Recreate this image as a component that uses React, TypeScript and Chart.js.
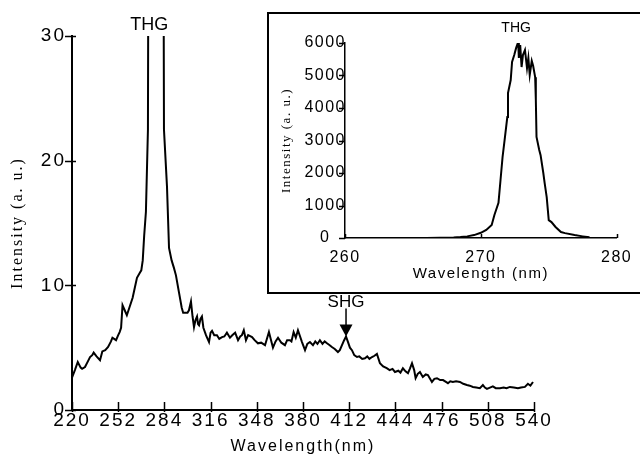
import React, { useEffect, useRef } from "react";
import { Chart, registerables } from "chart.js";

Chart.register(...registerables);

// ---- Main spectrum (Wavelength nm, Intensity a.u.) ----
const mainWavelengths = [
  220, 222, 224, 226, 227, 229, 231, 232.5, 234, 235, 237, 239.4, 241, 243, 245, 247, 248, 250.5, 252, 253,
  254, 255, 256.5, 258, 260, 262, 263.5, 265, 267, 268, 269, 270, 271.2, 272.6, 278, 283.7, 285.8, 287.2, 289, 290.6,
  292, 294, 296, 297, 300, 301, 302.4, 303.5, 304.5, 305.5, 306.6, 307.3, 308, 309, 310, 311, 312.8, 314.9, 316, 317,
  318.5, 320.4, 322, 323.9, 325.5, 327.3, 329.4, 331, 333, 335, 336.5, 337.7, 339, 340.5, 342, 344.7, 346.5, 348.8, 351, 353.7,
  356.4, 359.2, 361, 362.7, 365, 367.5, 369, 371, 372, 373.5, 375, 376.5, 379.3, 381.4, 383, 384.8, 386.9, 388.5,
  390, 391.7, 393.5, 395, 396.6, 398.5, 400, 402, 404.2, 405.5, 407, 408.5, 409.8, 411, 412.5, 413.9, 415.5, 417.4,
  419, 421, 422.9, 424.5, 426, 427.8, 429.5, 431.2, 433.3, 435.5, 438, 440, 442, 443.7, 446, 447.5, 449.2, 451,
  452.7, 454, 455.5, 457, 458, 459.5, 461, 463, 465, 466.5, 468, 469.3, 471, 472.8, 475, 477, 479, 480.4, 482, 483.8,
  486, 488.7, 491, 493.5, 495.5, 497.7, 500, 502.5, 504.6, 506, 507.4, 509.5, 511.5, 513.5, 516.4, 519, 521, 523.3,
  526, 528.9, 531, 533.7, 535.8, 537.5, 539.3,
];
const mainIntensity = [
  2.6, 3.2, 3.85, 3.4, 3.3, 3.45, 3.9, 4.25, 4.4, 4.6, 4.3, 4.0, 4.7, 4.8, 5.05, 5.5, 5.8, 5.6, 6.0, 6.25,
  6.6, 8.4, 8.0, 7.6, 8.3, 9.0, 9.8, 10.6, 11.0, 11.2, 12.0, 14.0, 15.9, 22.5, 300, 22.5, 17.9, 13.0, 12.0, 11.4,
  10.8, 9.5, 8.2, 7.8, 7.8, 8.0, 8.7, 7.5, 6.65, 7.2, 7.5, 6.9, 6.8, 7.3, 7.5, 6.6, 6.0, 5.45, 6.2, 6.35,
  6.0, 6.0, 5.7, 5.85, 5.9, 6.2, 5.8, 6.0, 6.2, 5.6, 5.9, 6.0, 6.4, 5.6, 6.0, 5.85, 5.6, 5.35, 5.4, 5.2,
  6.25, 5.0, 5.5, 5.8, 5.4, 5.2, 5.6, 5.6, 5.5, 6.25, 5.8, 6.4, 5.45, 4.8, 5.3, 5.45, 5.2, 5.5,
  5.3, 5.6, 5.3, 5.5, 5.35, 5.2, 5.05, 4.9, 4.65, 4.8, 5.2, 5.6, 5.9, 5.5, 5.0, 4.8, 4.4, 4.25,
  4.3, 4.1, 4.15, 4.3, 4.1, 4.25, 4.35, 4.5, 3.75, 3.5, 3.35, 3.2, 3.3, 3.05, 3.15, 3.0, 3.35, 3.1,
  2.95, 3.3, 3.75, 3.2, 2.55, 2.9, 3.05, 2.65, 2.85, 2.8, 2.5, 2.25, 2.5, 2.55, 2.4, 2.4, 2.25, 2.15, 2.3, 2.25,
  2.3, 2.25, 2.1, 2.0, 1.95, 1.85, 1.8, 1.75, 2.0, 1.8, 1.7, 1.8, 1.9, 1.75, 1.75, 1.8, 1.75, 1.85,
  1.8, 1.75, 1.8, 1.85, 2.1, 1.95, 2.25,
];
const mainXTicks = [220, 252, 284, 316, 348, 380, 412, 444, 476, 508, 540];
const mainYTicks = [0, 10, 20, 30];

// ---- Inset: THG peak ----
const insetWavelengths = [
  260, 262, 264, 266, 267, 268, 268.5, 269, 269.5, 270, 270.4, 270.8, 271, 271.3, 271.45, 271.6, 271.75, 271.95,
  272.0, 272.2, 272.3, 272.46, 272.6, 272.75, 272.8, 272.9, 273.0, 273.1, 273.25, 273.4, 273.5, 273.6, 273.75,
  273.85, 274.0, 274.05, 274.1, 274.3, 274.4, 274.6, 274.7, 274.85, 275.0, 275.2, 275.5, 275.9, 276.2, 276.9,
  277.5, 278,
];
const insetIntensity = [
  0, 0, 0, 0, 5, 15, 30, 50, 90, 160, 250, 400, 710, 1080, 1785, 2490, 3015, 3720,
  4460, 4860, 5415, 5630, 5850, 6030, 5540, 5940, 5260, 5630, 5785, 5230, 5540, 5015, 5450,
  5300, 4950, 4245, 3110, 2710, 2550, 2000, 1690, 1260, 550, 490, 340, 185, 150, 90,
  50, 20,
];
const insetXTicks = [260, 270, 280];
const insetYTicks = [0, 1000, 2000, 3000, 4000, 5000, 6000];

// annotation anchors
const thgLabelWavelength = 273.5;
const shgWavelength = 409.8;
const shgIntensity = 5.9;
const insetThgWavelength = 272.6;

function tickPlugin(id: string, spacing: string, xIn: number, xOut: number, yIn: number, yOut: number) {
  return {
    id,
    beforeDraw(chart: any) {
      chart.ctx.letterSpacing = spacing;
    },
    afterDraw(chart: any) {
      const ctx = chart.ctx;
      const xs = chart.scales.x;
      const ys = chart.scales.y;
      const a = chart.chartArea;
      ctx.save();
      ctx.strokeStyle = "#000";
      ctx.lineWidth = 1.5;
      ctx.beginPath();
      xs.ticks.forEach((t: any) => {
        const px = Math.round(xs.getPixelForValue(t.value)) + 0.5;
        ctx.moveTo(px, a.bottom - xIn);
        ctx.lineTo(px, a.bottom + xOut);
      });
      ys.ticks.forEach((t: any) => {
        const py = Math.round(ys.getPixelForValue(t.value)) + 0.5;
        ctx.moveTo(a.left - yOut, py);
        ctx.lineTo(a.left + yIn, py);
      });
      ctx.stroke();
      ctx.restore();
    },
  };
}

const mainAnnotations = {
  id: "mainAnnotations",
  afterDraw(chart: any) {
    const ctx = chart.ctx;
    const xs = chart.scales.x;
    const ys = chart.scales.y;
    const a = chart.chartArea;
    ctx.save();
    ctx.letterSpacing = "0px";
    ctx.fillStyle = "#000";
    ctx.strokeStyle = "#000";
    ctx.textAlign = "center";
    ctx.textBaseline = "middle";
    ctx.font = "18px 'Liberation Sans'";
    ctx.fillText("THG", xs.getPixelForValue(thgLabelWavelength), a.top - 11);
    const tx = xs.getPixelForValue(shgWavelength);
    const ty = ys.getPixelForValue(shgIntensity);
    ctx.lineWidth = 1.5;
    ctx.beginPath();
    ctx.moveTo(tx, ty - 28);
    ctx.lineTo(tx, ty - 10);
    ctx.stroke();
    ctx.beginPath();
    ctx.moveTo(tx - 6.5, ty - 12);
    ctx.lineTo(tx + 6.5, ty - 12);
    ctx.lineTo(tx, ty);
    ctx.closePath();
    ctx.fill();
    ctx.font = "17px 'Liberation Sans'";
    ctx.fillText("SHG", tx, ty - 34);
    ctx.restore();
  },
};

const insetAnnotations = {
  id: "insetAnnotations",
  afterDraw(chart: any) {
    const ctx = chart.ctx;
    const xs = chart.scales.x;
    const a = chart.chartArea;
    ctx.save();
    ctx.letterSpacing = "0px";
    ctx.fillStyle = "#000";
    ctx.textAlign = "center";
    ctx.textBaseline = "middle";
    ctx.font = "14px 'Liberation Sans'";
    ctx.fillText("THG", xs.getPixelForValue(insetThgWavelength), a.top - 15);
    ctx.restore();
  },
};

export default function App() {
  const mainRef = useRef<HTMLCanvasElement>(null);
  const insetRef = useRef<HTMLCanvasElement>(null);

  useEffect(() => {
    const main = new Chart(mainRef.current!, {
      type: "line",
      data: {
        datasets: [
          {
            data: mainWavelengths.map((x, i) => ({ x, y: mainIntensity[i] })),
            borderColor: "#000",
            borderWidth: 2,
            pointRadius: 0,
            tension: 0,
            fill: false,
          },
        ],
      },
      options: {
        responsive: false,
        animation: false,
        devicePixelRatio: 1,
        layout: { padding: { left: 0, top: 36, right: 106, bottom: 0 } },
        plugins: { legend: { display: false }, tooltip: { enabled: false } },
        scales: {
          x: {
            type: "linear",
            min: 220,
            max: 540,
            afterBuildTicks: (s: any) => {
              s.ticks = mainXTicks.map((v) => ({ value: v }));
            },
            afterFit: (s: any) => {
              s.height = 45;
            },
            grid: { display: false, drawTicks: false },
            border: { display: true, color: "#000", width: 2 },
            ticks: {
              autoSkip: false,
              maxRotation: 0,
              padding: -1,
              color: "#000",
              font: { family: "'Liberation Sans'", size: 19 },
              callback: (v: any) => String(v),
            },
            title: {
              display: true,
              text: "Wavelength(nm)",
              color: "#000",
              font: { family: "'Liberation Sans'", size: 16 },
              padding: { top: 0, bottom: -1 },
            },
          },
          y: {
            type: "linear",
            min: 0,
            max: 30,
            afterBuildTicks: (s: any) => {
              s.ticks = mainYTicks.map((v) => ({ value: v }));
            },
            afterFit: (s: any) => {
              s.width = 72;
            },
            grid: { display: false, drawTicks: false },
            border: { display: true, color: "#000", width: 2 },
            ticks: {
              padding: 6,
              color: "#000",
              font: { family: "'Liberation Sans'", size: 19 },
              callback: (v: any) => String(v),
            },
            title: {
              display: true,
              text: "Intensity (a. u.)",
              color: "#000",
              font: { family: "'Liberation Serif'", size: 16 },
              padding: { top: 8, bottom: 0 },
            },
          },
        },
      },
      plugins: [tickPlugin("mainTicks", "2px", 8, 2, 4, 7), mainAnnotations],
    } as any);

    const inset = new Chart(insetRef.current!, {
      type: "line",
      data: {
        datasets: [
          {
            data: insetWavelengths.map((x, i) => ({ x, y: insetIntensity[i] })),
            borderColor: "#000",
            borderWidth: 2,
            pointRadius: 0,
            tension: 0,
            fill: false,
          },
        ],
      },
      options: {
        responsive: false,
        animation: false,
        devicePixelRatio: 1,
        layout: { padding: { left: 0, top: 29, right: 18, bottom: 0 } },
        plugins: { legend: { display: false }, tooltip: { enabled: false } },
        scales: {
          x: {
            type: "linear",
            min: 260,
            max: 280,
            afterBuildTicks: (s: any) => {
              s.ticks = insetXTicks.map((v) => ({ value: v }));
            },
            afterFit: (s: any) => {
              s.height = 54;
            },
            grid: { display: false, drawTicks: false },
            border: { display: true, color: "#000", width: 1.5 },
            ticks: {
              autoSkip: false,
              maxRotation: 0,
              padding: 10,
              color: "#000",
              font: { family: "'Liberation Sans'", size: 16 },
              callback: (v: any) => String(v),
            },
            title: {
              display: true,
              text: "Wavelength (nm)",
              color: "#000",
              font: { family: "'Liberation Sans'", size: 15 },
              padding: { top: 0, bottom: 9 },
            },
          },
          y: {
            type: "linear",
            min: 0,
            max: 6000,
            afterBuildTicks: (s: any) => {
              s.ticks = insetYTicks.map((v) => ({ value: v }));
            },
            afterFit: (s: any) => {
              s.width = 76;
            },
            grid: { display: false, drawTicks: false },
            border: { display: true, color: "#000", width: 1.5 },
            ticks: {
              padding: 2,
              crossAlign: "center",
              color: "#000",
              font: { family: "'Liberation Sans'", size: 16 },
              callback: (v: any) => String(v),
            },
            title: {
              display: true,
              text: "Intensity (a. u.)",
              color: "#000",
              font: { family: "'Liberation Serif'", size: 13 },
              padding: { top: 10, bottom: 0 },
            },
          },
        },
      },
      plugins: [tickPlugin("insetTicks", "1.5px", 4, 0, 0, 6), insetAnnotations],
    } as any);

    return () => {
      main.destroy();
      inset.destroy();
    };
  }, []);

  return (
    <div
      style={{
        position: "absolute",
        left: 0,
        top: 0,
        width: 640,
        height: 455,
        overflow: "hidden",
        background: "#fff",
      }}
    >
      <canvas ref={mainRef} width={640} height={455} style={{ position: "absolute", left: 0, top: 0 }} />
      <div
        style={{
          position: "absolute",
          left: 267,
          top: 12,
          width: 380,
          height: 278,
          borderTop: "2px solid #000",
          borderLeft: "2px solid #000",
          borderBottom: "2px solid #000",
          background: "#fff",
        }}
      >
        <canvas ref={insetRef} width={371} height={278} style={{ position: "absolute", left: 0, top: 0 }} />
      </div>
    </div>
  );
}
